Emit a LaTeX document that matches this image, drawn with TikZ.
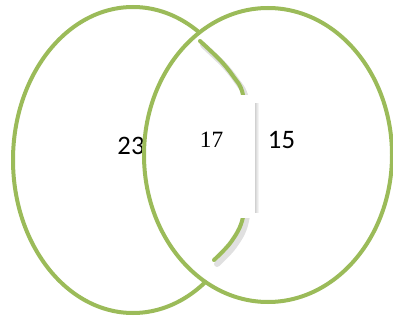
\documentclass[tikz,border=0pt]{standalone}
\usepackage{fontspec}
\setmainfont{Liberation Serif}
\newfontfamily\calibri{Carlito}
\usepackage{tikz}
\usetikzlibrary{calc}
\definecolor{vgreen}{HTML}{9BBB59}
\tikzset{
  ring/.style={draw=vgreen,line width=3pt},
  lobe/.style={draw=vgreen,line width=3pt,line cap=round},
  lobeshadow/.style={draw=black,opacity=.12,line width=4.5pt,line cap=round},
  count/.style={font=\calibri\fontsize{20}{24}\selectfont,inner sep=0pt},
  mid/.style={font=\fontsize{17.5}{21}\selectfont,inner sep=0pt}
}

\begin{document}
\begin{tikzpicture}[x=0.75pt,y=-0.75pt]
  \useasboundingbox (0,0) rectangle (393,321);

  % Left set and its count.
  \draw[ring] (133,160) ellipse [x radius=120,y radius=153];
  \node[count] (left) at (131,146) {23};

  % Right set, filled so it hides the inner part of the left one.
  \draw[ring,fill=white] (268,155) ellipse [x radius=124,y radius=147];

  % Inner edge of the left set, lifted with a soft shadow.
  \draw[lobeshadow] plot[smooth] coordinates
    {(203,45) (223,64) (236,80) (246,99) (252,157) (246,221) (234,246) (217,264)};
  \draw[lobe] plot[smooth] coordinates
    {(200,41) (220,60) (233,76) (243,95) (249,155) (243,217) (231,242) (214,260)};

  % Label box for the overlap.
  \shade[left color=black!18,right color=white] (255,104) rectangle (259,212);
  \fill[white] (162,95) rectangle (255,218);
  \node[mid] (both) at (211.5,140) {17};
  \node[count] (right) at (281.5,140) {15};
\end{tikzpicture}
\end{document}
